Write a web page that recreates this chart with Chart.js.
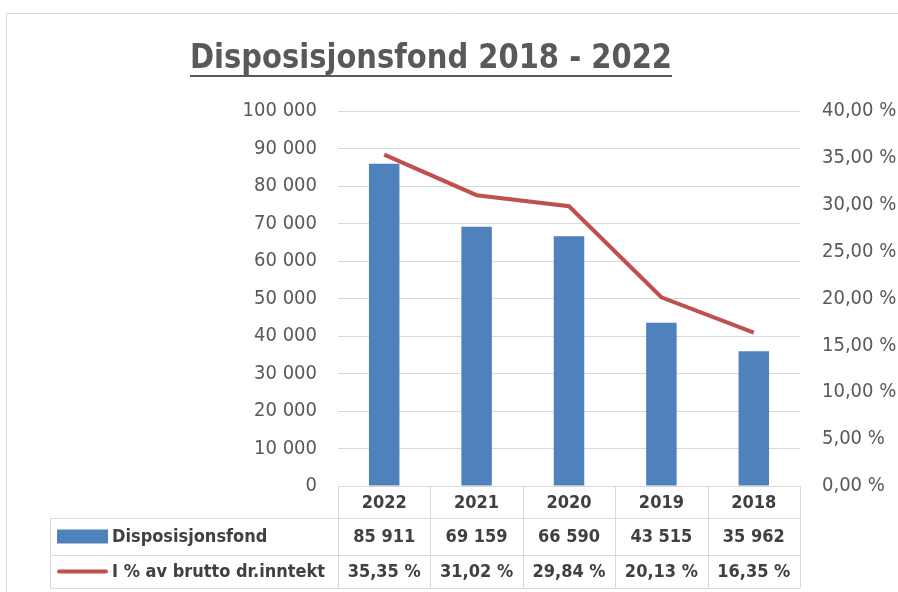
<!DOCTYPE html>
<html>
<head>
<meta charset="utf-8">
<script src="https://cdn.jsdelivr.net/npm/chart.js@4.4.0/dist/chart.umd.min.js"></script>
<style>
    html, body { margin: 0; padding: 0; background: #fff; }
</style>
</head>
<body>
<canvas id="fondChart" width="898" height="592"></canvas>
<script>
var years = ["2022", "2021", "2020", "2019", "2018"];
var fondValues = [85911, 69159, 66590, 43515, 35962];
var pctValues = [35.35, 31.02, 29.84, 20.13, 16.35];
var fondLabel = "Disposisjonsfond";
var pctLabel = "I % av brutto dr.inntekt";
var chartTitle = "Disposisjonsfond 2018 - 2022";

var barColor = "#4F81BD";
var lineColor = "#C0504D";
var gridColor = "#d9d9d9";
var tickColor = "#595959";
var tableTextColor = "#404040";
var labelFont = "'DejaVu Sans Condensed', 'DejaVu Sans', sans-serif";

function formatThousands(v) {
    return String(Math.round(v)).replace(/\B(?=(\d{3})+(?!\d))/g, " ");
}

function formatPct(v) {
    return v.toFixed(2).replace(".", ",") + " %";
}

// title + data table under the plot, Excel style
var tablePlugin = {
    id: "excelTable",
    afterDraw: function(chart) {
        var ctx = chart.ctx;
        var area = chart.chartArea;
        var xScale = chart.scales.x;
        var rowTops = [area.bottom, 518, 555, 588];
        var legendLeft = 50;
        var colW = (area.right - area.left) / years.length;

        ctx.save();

        // outer frame
        ctx.strokeStyle = gridColor;
        ctx.lineWidth = 1;
        ctx.beginPath();
        ctx.moveTo(6.5, 592);
        ctx.lineTo(6.5, 13.5);
        ctx.lineTo(898, 13.5);
        ctx.stroke();

        // title
        ctx.fillStyle = tickColor;
        ctx.font = "bold 34px " + labelFont;
        var tw = ctx.measureText(chartTitle).width;
        var targetW = 482;
        ctx.save();
        ctx.translate(190, 68);
        ctx.scale(targetW / tw, 1);
        ctx.textAlign = "left";
        ctx.textBaseline = "alphabetic";
        ctx.fillText(chartTitle, 0, 0);
        ctx.restore();
        ctx.fillRect(190, 75, targetW, 2);

        // table grid
        ctx.strokeStyle = gridColor;
        ctx.beginPath();
        ctx.moveTo(area.left, rowTops[0] + 0.5);
        ctx.lineTo(area.right, rowTops[0] + 0.5);
        for (var r = 1; r < rowTops.length; r++) {
            ctx.moveTo(legendLeft, rowTops[r] + 0.5);
            ctx.lineTo(area.right, rowTops[r] + 0.5);
        }
        for (var c = 0; c <= years.length; c++) {
            var x = Math.round(area.left + c * colW) + 0.5;
            ctx.moveTo(x, rowTops[0]);
            ctx.lineTo(x, rowTops[3]);
        }
        ctx.moveTo(legendLeft + 0.5, rowTops[1]);
        ctx.lineTo(legendLeft + 0.5, rowTops[3]);
        ctx.stroke();

        // cell texts
        ctx.fillStyle = tableTextColor;
        ctx.font = "bold 18px " + labelFont;
        ctx.textAlign = "center";
        ctx.textBaseline = "middle";
        years.forEach(function(year, i) {
            var cx = xScale.getPixelForValue(i);
            ctx.fillText(year, cx, (rowTops[0] + rowTops[1]) / 2 + 1);
            ctx.fillText(formatThousands(fondValues[i]), cx, (rowTops[1] + rowTops[2]) / 2 + 1);
            ctx.fillText(formatPct(pctValues[i]), cx, (rowTops[2] + rowTops[3]) / 2 + 1);
        });

        // legend keys
        var row2Mid = (rowTops[1] + rowTops[2]) / 2;
        var row3Mid = (rowTops[2] + rowTops[3]) / 2;
        ctx.fillStyle = barColor;
        ctx.fillRect(57, row2Mid - 7, 51, 14);
        ctx.strokeStyle = lineColor;
        ctx.lineWidth = 4;
        ctx.lineCap = "round";
        ctx.beginPath();
        ctx.moveTo(59, row3Mid);
        ctx.lineTo(106, row3Mid);
        ctx.stroke();

        ctx.fillStyle = tableTextColor;
        ctx.textAlign = "left";
        ctx.fillText(fondLabel, 112, row2Mid + 1);
        ctx.fillText(pctLabel, 112, row3Mid + 1);

        ctx.restore();
    }
};

var chartInstance = new Chart(document.getElementById("fondChart").getContext("2d"), {
    data: {
        labels: years,
        datasets: [
            {
                type: "line",
                label: pctLabel,
                data: pctValues,
                yAxisID: "y1",
                borderColor: lineColor,
                backgroundColor: lineColor,
                borderWidth: 4,
                pointRadius: 0,
                tension: 0,
                order: 0
            },
            {
                type: "bar",
                label: fondLabel,
                data: fondValues,
                yAxisID: "y",
                backgroundColor: barColor,
                categoryPercentage: 1,
                barPercentage: 0.33,
                order: 1
            }
        ]
    },
    options: {
        responsive: false,
        animation: false,
        devicePixelRatio: 1,
        layout: {
            padding: { top: 111, left: 0, right: 0, bottom: 0 }
        },
        plugins: {
            legend: { display: false },
            title: { display: false },
            tooltip: { enabled: false }
        },
        scales: {
            x: {
                ticks: { display: false },
                grid: { display: false },
                border: { display: false },
                afterFit: function(scale) { scale.height = 592 - 486; }
            },
            y: {
                position: "left",
                min: 0,
                max: 100000,
                border: { display: false },
                grid: { color: gridColor, drawTicks: false },
                ticks: {
                    stepSize: 10000,
                    padding: 21,
                    color: tickColor,
                    font: { family: labelFont, size: 20 },
                    callback: function(v) { return formatThousands(v); }
                },
                afterFit: function(scale) { scale.width = 338; }
            },
            y1: {
                position: "right",
                min: 0,
                max: 40,
                border: { display: false },
                grid: { display: false, drawTicks: false },
                ticks: {
                    stepSize: 5,
                    padding: 22,
                    color: tickColor,
                    font: { family: labelFont, size: 20 },
                    callback: function(v) { return formatPct(v); }
                },
                afterFit: function(scale) { scale.width = 98; }
            }
        }
    },
    plugins: [tablePlugin]
});
</script>
</body>
</html>
